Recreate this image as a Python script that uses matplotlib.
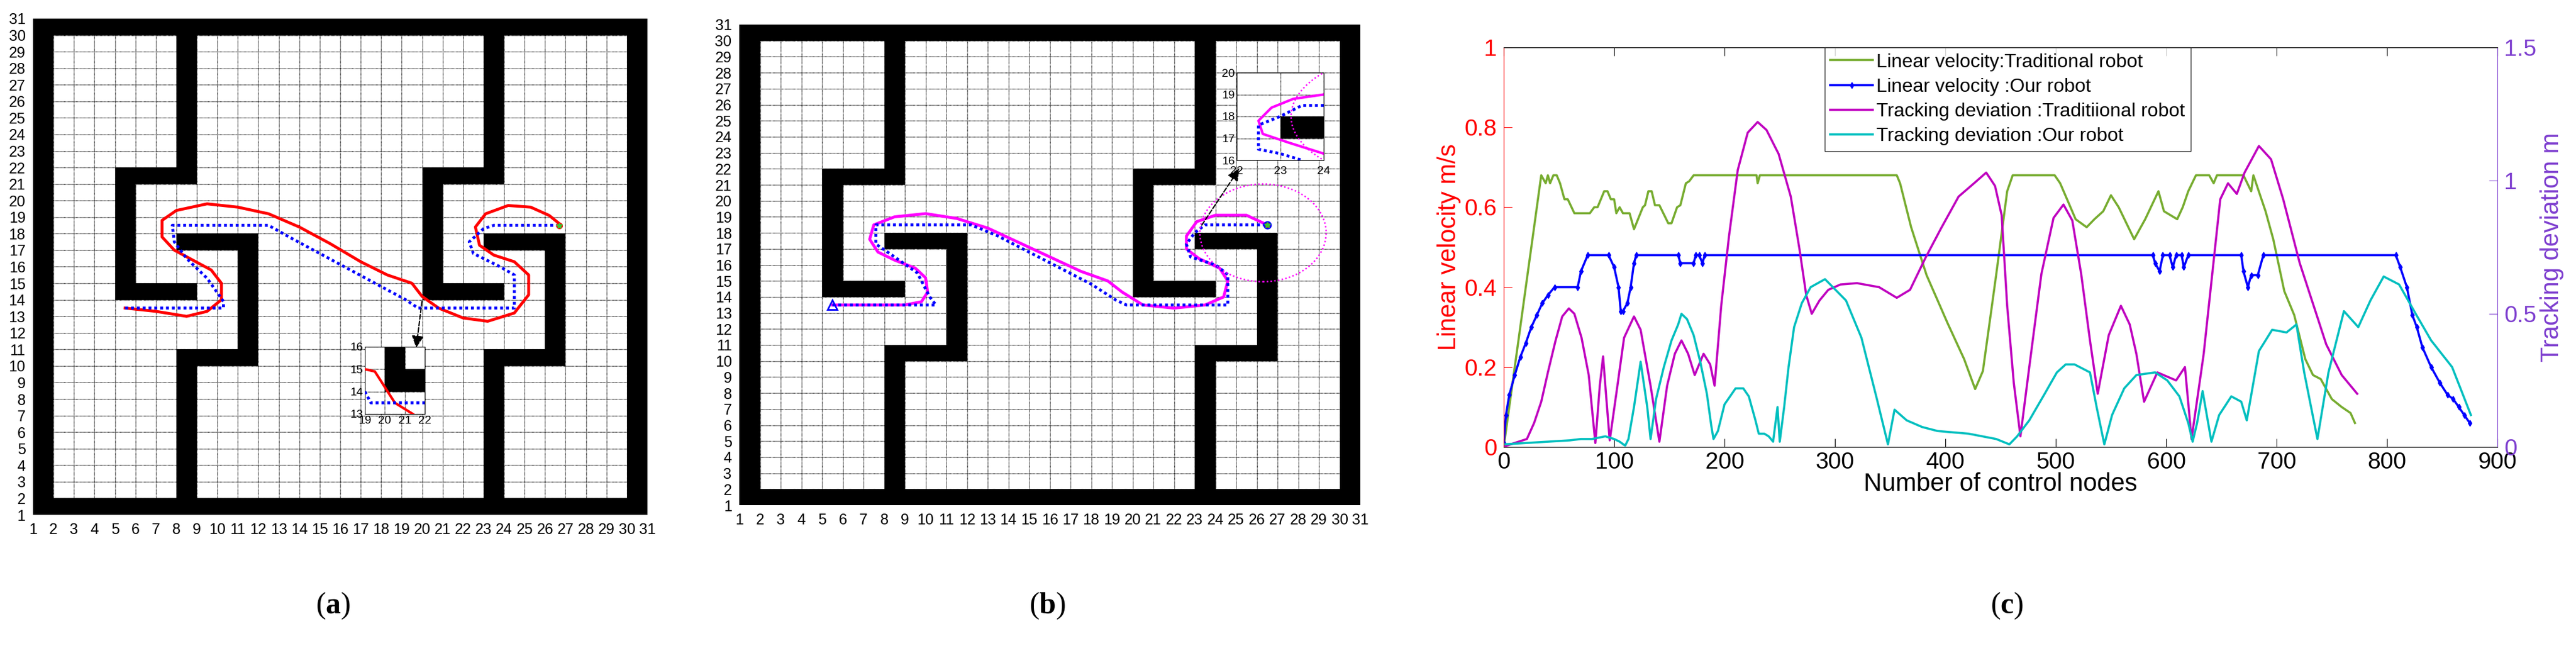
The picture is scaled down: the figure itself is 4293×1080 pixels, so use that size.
import matplotlib
matplotlib.use("Agg")
import matplotlib.pyplot as plt
from matplotlib.patches import Rectangle, Circle

plt.rcParams['font.family'] = ['Liberation Sans Narrow', 'Liberation Sans', 'DejaVu Sans']
plt.rcParams['mathtext.fontset'] = 'custom'
plt.rcParams['mathtext.bf'] = 'Liberation Serif:bold'
plt.rcParams['mathtext.rm'] = 'Liberation Serif'

W, H = 4293, 1080

# ---- map obstacles (x0, y0, x1, y1) in grid units ----
walls = [
    (1, 1, 2, 31), (30, 1, 31, 31), (1, 1, 31, 2), (1, 30, 31, 31),
    (8, 21, 9, 30), (5, 21, 9, 22), (5, 14, 6, 22), (5, 14, 9, 15),
    (8, 17, 12, 18), (11, 10, 12, 18), (8, 10, 12, 11), (8, 1, 9, 11),
    (23, 21, 24, 30), (20, 21, 24, 22), (20, 14, 21, 22), (20, 14, 24, 15),
    (23, 17, 27, 18), (26, 10, 27, 18), (23, 10, 27, 11), (23, 1, 24, 11),
]

# ---- panel (a) paths ----
a_trad_x = [5.5, 7, 8.5, 9.5, 10.2, 10.2, 9.7, 8.8, 7.9, 7.3, 7.3, 8.0, 9.5, 11, 12.5, 14, 15.5, 17,
            18.3, 19.5, 20, 20.8, 22, 23.2, 24.5, 25.2, 25.2, 24.5, 23.5, 22.8, 22.6, 23.1, 24.2, 25.3, 26.2, 26.7]
a_trad_y = [13.5, 13.3, 13.0, 13.3, 14.0, 15, 15.8, 16.4, 17.0, 17.8, 18.8, 19.4, 19.8, 19.6, 19.2, 18.4,
            17.4, 16.3, 15.5, 15.0, 14.2, 13.5, 12.9, 12.7, 13.2, 14.3, 15.5, 16.3, 16.7, 17.3, 18.4, 19.2, 19.7, 19.6, 19.1, 18.6]
a_our_x = [5.5, 10.3, 10.3, 9.5, 8.5, 7.9, 7.8, 12.5, 13.5, 15, 16.5, 18, 19.2, 19.8, 24.5, 24.5, 23.8,
           22.5, 22.3, 23, 23.5, 26.7]
a_our_y = [13.5, 13.5, 13.9, 15.3, 16.5, 17.5, 18.5, 18.5, 17.8, 16.8, 15.8, 14.8, 14.0, 13.5, 13.5, 15.5,
           16.0, 16.8, 17.5, 18.3, 18.5, 18.5]
a_in_trad_x = [19, 19.5, 20, 20.5, 21.4]
a_in_trad_y = [15, 14.9, 14.2, 13.5, 13]
a_in_our_x = [19, 19.3, 22]
a_in_our_y = [14, 13.5, 13.5]

# ---- panel (b) paths ----
b_trad_x = [5.5, 9, 9.8, 10.1, 10, 9.5, 8.5, 7.7, 7.3, 7.5, 8.5, 10, 11.5, 13, 14.5, 16, 17.5, 18.8, 19.5,
            20.5, 22, 23.5, 24.4, 24.6, 24.2, 23.2, 22.6, 22.6, 23.1, 24, 25.5, 26.5]
b_trad_y = [13.5, 13.5, 13.7, 14.3, 15.2, 15.8, 16.3, 16.8, 17.6, 18.5, 19.0, 19.2, 18.9, 18.3, 17.4, 16.5,
            15.6, 15.0, 14.3, 13.5, 13.3, 13.5, 14.0, 15, 15.8, 16.4, 17, 17.8, 18.7, 19.1, 19.1, 18.5]
b_our_x = [5.5, 10.5, 10.2, 9.6, 8.5, 7.6, 7.6, 12.2, 13.5, 15, 16.5, 18, 19.2, 19.7, 24.6, 24.6, 24,
           22.8, 22.6, 23, 23.5, 26.5]
b_our_y = [13.5, 13.5, 14, 15.5, 16.5, 17.3, 18.5, 18.5, 17.8, 16.8, 15.8, 14.8, 13.8, 13.5, 13.5, 15.4,
           16, 16.5, 17.3, 18, 18.5, 18.5]
b_in_trad_x = [24, 23.3, 22.8, 22.5, 22.6, 23.2, 24]
b_in_trad_y = [19, 18.8, 18.4, 17.8, 17.2, 16.8, 16.3]
b_in_our_x = [24, 23.5, 23, 22.5, 22.5, 23, 23.5]
b_in_our_y = [18.5, 18.5, 18, 17.6, 16.5, 16.3, 16]

# ---- panel (c) series ----
g_x = [0, 34, 38, 40, 42, 45, 48, 51, 55, 58, 64, 78, 82, 85, 91, 94, 97, 100, 102, 105, 108, 114, 118, 126,
       128, 131, 134, 137, 141, 149, 152, 157, 160, 165, 168, 172, 229, 230, 232, 356, 359, 369, 383, 402, 417,
       427, 434, 446, 456, 461, 499, 504, 518, 528, 535, 543, 550, 557, 571, 581, 593, 598, 610, 615, 620,
       627, 639, 643, 646, 670, 677, 679, 690, 697, 707, 716, 726, 733, 740, 750, 759, 767, 771]
g_y = [0, 0.68, 0.66, 0.68, 0.66, 0.68, 0.68, 0.66, 0.62, 0.62, 0.585, 0.585, 0.6, 0.6, 0.64, 0.64, 0.62, 0.62,
       0.585, 0.6, 0.585, 0.585, 0.545, 0.6, 0.605, 0.64, 0.64, 0.605, 0.605, 0.56, 0.56, 0.6, 0.605, 0.66,
       0.665, 0.68, 0.68, 0.66, 0.68, 0.68, 0.66, 0.55, 0.43, 0.31, 0.22, 0.145, 0.19, 0.43, 0.64, 0.68, 0.68,
       0.66, 0.57, 0.55, 0.57, 0.59, 0.63, 0.6, 0.52, 0.57, 0.64, 0.59, 0.57, 0.6, 0.64, 0.68, 0.68, 0.66,
       0.68, 0.68, 0.64, 0.68, 0.59, 0.52, 0.39, 0.33, 0.22, 0.18, 0.17, 0.12, 0.1, 0.085, 0.06]
v_x = [0, 2, 5, 10, 15, 20, 25, 30, 35, 40, 46, 67, 70, 76, 95, 100, 104, 106, 108, 112, 115, 118, 120, 158,
       160, 172, 174, 177, 180, 182, 588, 590, 594, 597, 603, 606, 609, 614, 616, 620, 668, 670, 674, 677,
       683, 688, 808, 812, 818, 823, 827, 832, 840, 848, 855, 860, 865, 870, 875]
v_y = [0.01, 0.08, 0.13, 0.18, 0.225, 0.26, 0.3, 0.33, 0.36, 0.38, 0.4, 0.4, 0.44, 0.48, 0.48, 0.45, 0.4,
       0.34, 0.34, 0.36, 0.4, 0.46, 0.48, 0.48, 0.46, 0.46, 0.48, 0.48, 0.46, 0.48, 0.48, 0.46, 0.44, 0.48,
       0.48, 0.45, 0.48, 0.48, 0.45, 0.48, 0.48, 0.44, 0.4, 0.43, 0.43, 0.48, 0.48, 0.45, 0.4, 0.33, 0.3,
       0.25, 0.2, 0.16, 0.13, 0.12, 0.1, 0.08, 0.06]
m_x = [0, 6, 21, 27.5, 34, 40, 47, 53, 59, 64, 70.5, 77, 83, 87, 90, 93, 96, 103, 109, 118, 124, 133, 141,
       148, 155, 161, 167, 173, 181, 187, 191, 197, 204, 212, 221, 230, 238, 249, 260, 268, 274, 279, 286,
       294, 305, 320, 340, 356, 368, 382, 396, 412, 426, 437, 445, 451, 456, 462, 468, 476, 487, 498, 507,
       515, 523, 531, 538, 548, 559, 567, 573, 580, 592, 609, 617, 623, 634, 642, 649, 656, 664, 671, 684,
       695, 706, 721, 745, 759, 773]
m_y = [0.0, 0.01, 0.03, 0.09, 0.17, 0.28, 0.40, 0.49, 0.52, 0.50, 0.41, 0.27, 0.015, 0.23, 0.34, 0.18,
       0.025, 0.23, 0.41, 0.49, 0.44, 0.23, 0.02, 0.23, 0.35, 0.40, 0.35, 0.27, 0.35, 0.31, 0.23, 0.53, 0.79,
       1.04, 1.18, 1.22, 1.19, 1.10, 0.94, 0.74, 0.57, 0.50, 0.55, 0.59, 0.61, 0.615, 0.60, 0.56, 0.59, 0.71,
       0.82, 0.94, 0.99, 1.03, 0.98, 0.87, 0.53, 0.24, 0.04, 0.30, 0.65, 0.86, 0.91, 0.85, 0.65, 0.40, 0.20,
       0.42, 0.53, 0.46, 0.35, 0.17, 0.28, 0.25, 0.30, 0.03, 0.35, 0.66, 0.93, 0.99, 0.95, 1.03, 1.13, 1.08,
       0.93, 0.69, 0.385, 0.27, 0.2]
c_x = [0, 20, 40, 60, 70, 80, 92, 100, 105, 110, 113, 118, 124, 130, 133, 138, 145, 152, 158, 161, 166, 172,
       178, 184, 188, 190, 194, 200, 210, 217, 222, 228, 231, 236, 240, 244, 248, 250, 254, 258, 263, 270,
       278, 291, 310, 324, 338, 348, 354, 365, 379, 393, 421, 446, 458, 465, 476, 490, 501, 509, 517, 531,
       537, 544, 551, 562, 573, 590, 601, 612, 620, 624, 628, 633, 641, 648, 659, 668, 673, 684, 696, 709,
       718, 725, 737, 747, 761, 774, 785, 797, 811, 826, 840, 859, 876]
c_y = [0.01, 0.015, 0.02, 0.025, 0.03, 0.03, 0.04, 0.03, 0.02, 0.005, 0.03, 0.15, 0.32, 0.15, 0.03, 0.18,
       0.3, 0.4, 0.46, 0.5, 0.48, 0.42, 0.32, 0.2, 0.08, 0.03, 0.06, 0.16, 0.22, 0.22, 0.19, 0.1, 0.05, 0.05,
       0.04, 0.02, 0.15, 0.02, 0.15, 0.3, 0.45, 0.54, 0.6, 0.63, 0.55, 0.41, 0.18, 0.01, 0.14, 0.10, 0.075,
       0.06, 0.05, 0.03, 0.01, 0.04, 0.1, 0.2, 0.28, 0.31, 0.31, 0.28, 0.15, 0.01, 0.12, 0.22, 0.27, 0.28,
       0.25, 0.19, 0.09, 0.02, 0.09, 0.21, 0.02, 0.12, 0.19, 0.17, 0.10, 0.36, 0.44, 0.43, 0.46, 0.28, 0.03,
       0.28, 0.51, 0.45, 0.55, 0.64, 0.61, 0.5, 0.4, 0.3, 0.12]

legend_labels = ["Linear velocity:Traditional robot", "Linear velocity :Our robot",
                 "Tracking deviation :Traditiional robot", "Tracking deviation :Our robot"]

fig = plt.figure(figsize=(W / 100, H / 100), dpi=100)


def ax_px(l, t, r, b):
    return fig.add_axes([l / W, 1 - b / H, (r - l) / W, (b - t) / H])


def draw_map(ax, x0, x1, y0, y1, blocks, fs, pad):
    ax.set_xlim(x0, x1)
    ax.set_ylim(y0, y1)
    ax.set_xticks(range(x0, x1 + 1))
    ax.set_yticks(range(y0, y1 + 1))
    for i in range(x0, x1 + 1):
        ax.axvline(i, color='0.15', ls=(0, (1, 0.6)), lw=1.0, zorder=1)
    for j in range(y0, y1 + 1):
        ax.axhline(j, color='0.15', ls=(0, (1, 0.6)), lw=1.0, zorder=1)
    for (a, b, c, d) in blocks:
        ax.add_patch(Rectangle((a, b), c - a, d - b, color='black', zorder=2, lw=0))
    ax.tick_params(length=0, labelsize=fs, pad=pad)
    for s in ax.spines.values():
        s.set_visible(False)


# ---------- (a) ----------
axa = ax_px(55, 31, 1079, 858)
draw_map(axa, 1, 31, 1, 31, walls, 18, 9)
axa.plot(a_trad_x, a_trad_y, color='red', lw=3.5, zorder=4)
axa.plot(a_our_x, a_our_y, color='blue', lw=3.5, ls=(0, (1, 1)), zorder=5)
axa.plot([26.7], [18.5], 'o', color='red', ms=7, zorder=6)
axa.plot([26.7], [18.5], '*', color='limegreen', ms=7, zorder=7)
axa.annotate('', xy=(19.7, 11.0), xytext=(20.0, 14.0),
             arrowprops=dict(arrowstyle='-|>', ls='--', color='black', lw=1.5, mutation_scale=30), zorder=8)

ia = ax_px(608, 578, 708, 690)
draw_map(ia, 19, 22, 13, 16, [(20, 14, 21, 16), (21, 14, 22, 15)], 14, 2)
for s in ia.spines.values():
    s.set_visible(True)
    s.set_linewidth(0.8)
ia.plot(a_in_trad_x, a_in_trad_y, color='red', lw=3, zorder=4)
ia.plot(a_in_our_x, a_in_our_y, color='blue', lw=3.5, ls=(0, (1, 1)), zorder=5)

# ---------- (b) ----------
axb = ax_px(1232, 41, 2267, 842)
draw_map(axb, 1, 31, 1, 31, walls, 18, 9)
axb.plot(b_trad_x, b_trad_y, color='magenta', lw=3.5, zorder=4)
axb.plot(b_our_x, b_our_y, color='blue', lw=3.5, ls=(0, (1, 1)), zorder=5)
axb.plot([5.5], [13.5], '^', mfc='none', mec='blue', mew=2, ms=12, zorder=6)
axb.plot([26.5], [18.5], 'o', color='red', mec='blue', mew=2, ms=8, zorder=6)
axb.plot([26.5], [18.5], '*', color='limegreen', ms=7, zorder=7)
axb.add_patch(Circle((26.3, 18.0), 3.05, fill=False, ec='magenta', ls=(0, (1, 1.5)), lw=1.8, zorder=6))
axb.annotate('', xy=(25.2, 22.1), xytext=(23.3, 18.4),
             arrowprops=dict(arrowstyle='-|>', ls='--', color='black', lw=1.5, mutation_scale=30), zorder=8)

ib = ax_px(2061, 121, 2206, 267)
draw_map(ib, 22, 24, 16, 20, [(23, 17, 24, 18)], 14, 2)
for s in ib.spines.values():
    s.set_visible(True)
    s.set_linewidth(0.8)
ib.plot(b_in_trad_x, b_in_trad_y, color='magenta', lw=3, zorder=4)
ib.plot(b_in_our_x, b_in_our_y, color='blue', lw=3.5, ls=(0, (1, 1)), zorder=5)
ib.add_patch(Circle((26.3, 18.0), 3.05, fill=False, ec='magenta', ls=(0, (1, 1.5)), lw=1.8, zorder=3))
ib.tick_params(axis='x', pad=7)

# ---------- (c) ----------
axc = ax_px(2506, 79, 4162, 745)
axc.set_xlim(0, 900)
axc.set_ylim(0, 1)
axr = axc.twinx()
axr.set_ylim(0, 1.5)
purple = '#7E3FCF'
lg, = axc.plot(g_x, g_y, color='#77AC30', lw=2.6)
lb, = axc.plot(v_x, v_y, color='blue', lw=2.6, marker='d', ms=5)
lm, = axr.plot(m_x, m_y, color='#BF00BF', lw=2.6)
lc, = axr.plot(c_x, c_y, color='#00BFBF', lw=2.6)
axc.set_xticks(range(0, 901, 100))
axc.set_yticks([0, 0.2, 0.4, 0.6, 0.8, 1])
axc.set_yticklabels(['0', '0.2', '0.4', '0.6', '0.8', '1'])
axr.set_yticks([0, 0.5, 1, 1.5])
axr.set_yticklabels(['0', '0.5', '1', '1.5'])
axc.tick_params(axis='x', direction='in', length=10, labelsize=28, top=True, pad=6)
axc.tick_params(axis='y', direction='in', length=10, labelsize=28, colors='red', pad=8)
axr.tick_params(axis='y', direction='in', length=10, labelsize=28, colors=purple, pad=8)
axc.spines['left'].set_color('red')
axr.spines['left'].set_color('red')
axr.spines['right'].set_color(purple)
axc.spines['right'].set_visible(False)
axc.set_xlabel('Number of control nodes', fontsize=30, labelpad=-2)
axc.set_ylabel('Linear velocity m/s', fontsize=30, color='red', labelpad=4)
axr.set_ylabel('Tracking deviation m', fontsize=30, color=purple, labelpad=4)
leg = axr.legend([lg, lb, lm, lc], legend_labels, loc='upper left', bbox_to_anchor=(0.323, 1.0),
                 fontsize=23, frameon=True, fancybox=False, edgecolor='black', handlelength=2.2,
                 labelspacing=0.35, borderpad=0.3, handletextpad=0.2, borderaxespad=0)
leg.get_frame().set_linewidth(1.0)

# captions
for x, s in [(555, 'a'), (1745, 'b'), (3345, 'c')]:
    fig.text(x / W, 1 - 1010 / H, r'$\mathrm{(}\mathbf{' + s + r'}\mathrm{)}$', fontsize=36,
             ha='center', va='center')

fig.savefig('out.png', dpi=100)
